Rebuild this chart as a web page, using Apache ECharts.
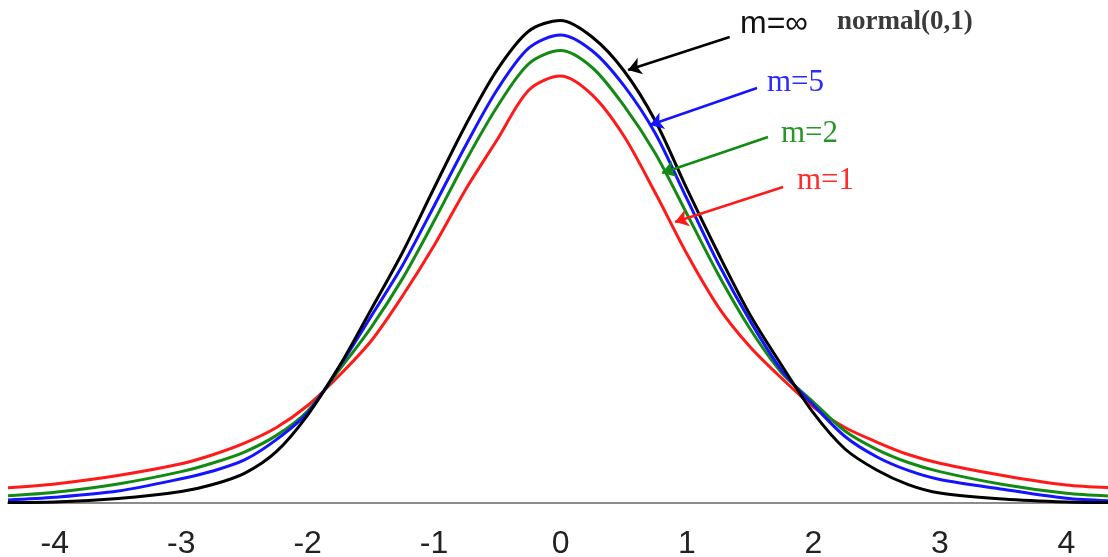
<!DOCTYPE html>
<html>
<head>
<meta charset="utf-8">
<script src="https://cdn.jsdelivr.net/npm/echarts@6/dist/echarts.min.js"></script>
<style>
html, body { margin: 0; padding: 0; background: #fff; }
#chart { width: 1108px; height: 557px; }
</style>
</head>
<body>
<div id="chart"></div>
<script>
var xs = [-4.37, -4, -3.5, -3, -2.75, -2.5, -2.25, -2, -1.75, -1.5, -1.25, -1, -0.75, -0.5, -0.25, 0,
          0.25, 0.5, 0.75, 1, 1.25, 1.5, 1.75, 2, 2.25, 2.5, 2.75, 3, 3.5, 4, 4.33];

var mInf = [0, 0.0004, 0.0033, 0.0091, 0.0149, 0.0242, 0.0420, 0.0726, 0.1130, 0.1598, 0.2075, 0.2610, 0.3133, 0.3593, 0.3913, 0.4000,
            0.3863, 0.3585, 0.3166, 0.2602, 0.2062, 0.1556, 0.1137, 0.0743, 0.0444, 0.0270, 0.0149, 0.0079, 0.0029, 0.0004, 0];
var m5 = [0.0021, 0.0043, 0.0095, 0.0197, 0.0261, 0.0353, 0.0520, 0.0745, 0.1125, 0.1542, 0.1967, 0.2461, 0.2963, 0.3427, 0.3772, 0.3880,
          0.3749, 0.3461, 0.3062, 0.2519, 0.1979, 0.1506, 0.1095, 0.0809, 0.0548, 0.0380, 0.0266, 0.0191, 0.0110, 0.0035, 0.0015];
var m2 = [0.0056, 0.0085, 0.0154, 0.0256, 0.0328, 0.0419, 0.0555, 0.0760, 0.1100, 0.1450, 0.1858, 0.2336, 0.2834, 0.3286, 0.3643, 0.3751,
          0.3610, 0.3295, 0.2896, 0.2394, 0.1888, 0.1440, 0.1075, 0.0834, 0.0593, 0.0441, 0.0332, 0.0256, 0.0149, 0.0076, 0.0054];
var m1 = [0.0123, 0.0154, 0.0224, 0.0321, 0.0396, 0.0492, 0.0620, 0.0805, 0.1054, 0.1338, 0.1714, 0.2133, 0.2598, 0.3012, 0.3423, 0.3539,
          0.3383, 0.3044, 0.2568, 0.2062, 0.1620, 0.1290, 0.1030, 0.0793, 0.0622, 0.0502, 0.0398, 0.0326, 0.0224, 0.0145, 0.0124];

var tickLabels = [-4, -3, -2, -1, 0, 1, 2, 3, 4];

// arrow start / end points (data units)
var arrowInf = [[1.338, 0.3863], [0.534, 0.3589]];
var arrow5 = [[1.554, 0.3440], [0.708, 0.3133]];
var arrow2 = [[1.641, 0.3033], [0.803, 0.2734]];
var arrow1 = [[1.760, 0.2618], [0.906, 0.2328]];

function pairs(ys) {
    return xs.map(function(x, i) { return [x, ys[i]]; });
}

function curve(name, ys, color, arrow) {
    return {
        name: name,
        type: 'line',
        data: pairs(ys),
        smooth: 0.3,
        showSymbol: false,
        lineStyle: { color: color, width: 3 },
        markLine: {
            silent: true,
            symbol: ['none', 'arrow'],
            symbolSize: 13,
            label: { show: false },
            lineStyle: { color: color, width: 2.5, type: 'solid' },
            data: [[{ coord: arrow[0] }, { coord: arrow[1] }]]
        }
    };
}

var myChart = echarts.init(document.getElementById('chart'));

var option = {
    animation: false,
    backgroundColor: '#fff',
    grid: { left: 8, right: 0, top: 8.45, bottom: 54.5, outerBoundsMode: 'none' },
    xAxis: {
        type: 'value',
        min: -4.37,
        max: 4.33,
        axisLine: { show: true, onZero: false, lineStyle: { color: '#8c8c8c', width: 2 } },
        axisTick: { show: false },
        splitLine: { show: false },
        axisLabel: {
            customValues: tickLabels,
            fontSize: 32,
            fontFamily: 'Liberation Sans',
            color: '#222',
            margin: 26
        }
    },
    yAxis: { type: 'value', min: 0, max: 0.41, show: false },
    series: [
        curve('m=1', m1, '#ff1a1a', arrow1),
        curve('m=2', m2, '#138a13', arrow2),
        curve('m=5', m5, '#1414ff', arrow5),
        curve('m=∞', mInf, '#000000', arrowInf)
    ],
    graphic: [
        { type: 'text', left: 740, top: 8, style: { text: 'm=∞', fontSize: 32, fontFamily: 'Liberation Sans', fill: '#111' } },
        { type: 'text', left: 837, top: 9, style: { text: 'normal(0,1)', fontSize: 27, fontWeight: 'bold', fontFamily: 'Liberation Serif', fill: '#3a3a3a' } },
        { type: 'text', left: 767, top: 67, style: { text: 'm=5', fontSize: 31, fontFamily: 'Liberation Serif', fill: '#2b2bff' } },
        { type: 'text', left: 781, top: 118, style: { text: 'm=2', fontSize: 31, fontFamily: 'Liberation Serif', fill: '#279527' } },
        { type: 'text', left: 797, top: 165, style: { text: 'm=1', fontSize: 31, fontFamily: 'Liberation Serif', fill: '#ff2a2a' } }
    ]
};
myChart.setOption(option);
</script>
</body>
</html>
